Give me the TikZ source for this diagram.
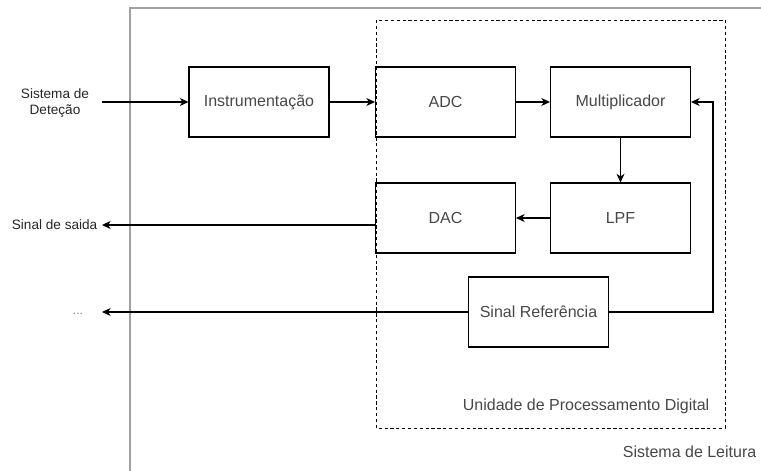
\documentclass[tikz,border=0pt]{standalone}
\usepackage{fontspec}
\setmainfont{Liberation Sans}
\usetikzlibrary{arrows.meta}
\definecolor{boxtxt}{HTML}{474747}
\definecolor{txt}{HTML}{262626}
\definecolor{frame}{HTML}{A0A0A0}
\tikzset{
  blk/.style={draw=black, line width=0.8pt, minimum width=105pt, minimum height=52.5pt,
    inner sep=0pt, text=boxtxt, font=\fontsize{12}{14}\selectfont},
  lbl/.style={text=txt, font=\fontsize{10.2}{11.5}\selectfont, align=center},
  biglbl/.style={text=boxtxt, font=\fontsize{12}{14}\selectfont},
  conn/.style={draw=black, line width=0.8pt, -{Stealth[length=6.5pt,width=6pt,inset=2pt]}},
}
\begin{document}
\begin{tikzpicture}[x=0.75pt, y=-0.75pt]
  \useasboundingbox (0,0) rectangle (761,471);
  \begin{scope}
    \clip (0,0) rectangle (761,471);
    % outer frame of the reading system
    \draw[frame, line width=0.9pt] (130,8) rectangle (800,520);
  \end{scope}
  % digital processing unit (dashed)
  \draw[black, line width=0.75pt, dash pattern=on 2.4pt off 2pt] (376,20) rectangle (725,428);

  % blocks
  \node[blk] (instr) at (259,102) {Instrumentação};
  \node[blk] (adc)   at (445.5,102) {ADC};
  \node[blk] (mult)  at (620.5,102) {Multiplicador};
  \node[blk] (lpf)   at (620.5,218) {LPF};
  \node[blk] (dac)   at (445.5,218) {DAC};
  \node[blk] (sref)  at (538.5,312) {Sinal Referência};

  % external labels
  \node[lbl] (det) at (55,103) {Sistema de\\Deteção};
  \coordinate (detout) at (102,102);
  \node[lbl, anchor=east] (saida) at (102,225) {Sinal de saida};
  \node[text=gray, font=\fontsize{9}{10}\selectfont] (dots) at (78,314) {...};
  \coordinate (dotsin) at (102,312);
  \coordinate (fb) at (713,312);

  \node[biglbl, anchor=east] (dsplbl) at (714,406) {Unidade de Processamento Digital};
  \node[biglbl, anchor=east] (syslbl) at (761,452) {Sistema de Leitura};

  % connectors
  \draw[conn] (detout) -- (instr.west);
  \draw[conn] (instr.east) -- (adc.west);
  \draw[conn] (adc.east) -- (mult.west);
  \draw[conn] (mult.south) -- (lpf.north);
  \draw[conn] (lpf.west) -- (dac.east);
  \draw[conn] (saida.east -| dac.west) -- (saida.east);
  \draw[conn] (sref.west) -- (dotsin);
  \draw[conn] (sref.east) -- (fb) |- (mult.east);
\end{tikzpicture}
\end{document}
